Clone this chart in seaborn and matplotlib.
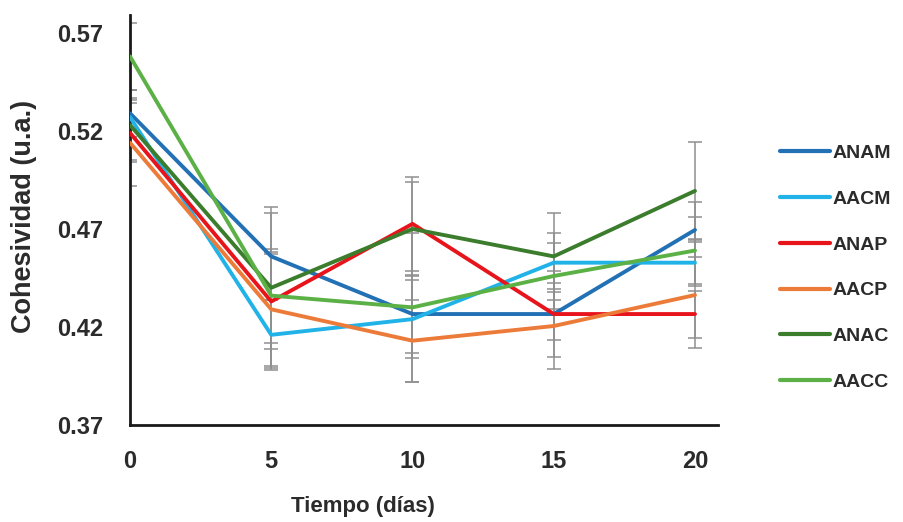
import matplotlib
matplotlib.use("Agg")
import matplotlib.pyplot as plt
import seaborn as sns
import pandas as pd
import numpy as np
from matplotlib.lines import Line2D

days = [0, 5, 10, 15, 20]
series = ["ANAM", "AACM", "ANAP", "AACP", "ANAC", "AACC"]
ANAM = [0.529, 0.456, 0.4266, 0.4266, 0.4695]
AACM = [0.527, 0.416, 0.424, 0.4528, 0.4528]
ANAP = [0.519, 0.433, 0.4726, 0.4266, 0.4266]
AACP = [0.514, 0.429, 0.413, 0.4205, 0.4363]
ANAC = [0.523, 0.440, 0.470, 0.456, 0.4894]
AACC = [0.558, 0.436, 0.430, 0.446, 0.459]
err_ANAM = [0.012, 0.022, 0.020, 0.022, 0.014]
err_AACM = [0.010, 0.018, 0.020, 0.015, 0.012]
err_ANAP = [0.015, 0.024, 0.024, 0.013, 0.012]
err_AACP = [0.022, 0.029, 0.021, 0.022, 0.027]
err_ANAC = [0.018, 0.041, 0.024, 0.022, 0.025]
err_AACC = [0.017, 0.024, 0.038, 0.017, 0.017]
yticks = [0.37, 0.42, 0.47, 0.52, 0.57]
xticks = [0, 5, 10, 15, 20]
colors = ["#2271b5", "#21b3e8", "#e8141c", "#ec7b3a", "#3b7d2d", "#5cb146"]

values = [ANAM, AACM, ANAP, AACP, ANAC, AACC]
errs = [err_ANAM, err_AACM, err_ANAP, err_AACP, err_ANAC, err_AACC]

df = pd.DataFrame({
    "Tiempo": np.tile(days, len(series)),
    "Cohesividad": np.concatenate(values),
    "err": np.concatenate(errs),
    "Serie": np.repeat(series, len(days)),
})

sns.set_style("white")
plt.rcParams["font.family"] = ["Liberation Sans", "DejaVu Sans"]
plt.rcParams["font.weight"] = "bold"

fig = plt.figure(figsize=(9.04, 5.22), dpi=100)
ax = fig.add_axes([0.1438, 0.1858, 0.650, 0.785])

for s in series:
    sub = df[df["Serie"] == s]
    ax.errorbar(sub["Tiempo"], sub["Cohesividad"], yerr=sub["err"], fmt="none",
                ecolor="#8f8f8f", elinewidth=1.1, capsize=5, capthick=1.1, zorder=1)

sns.lineplot(data=df, x="Tiempo", y="Cohesividad", hue="Serie", hue_order=series,
             palette=colors, linewidth=2.8, sort=False, ax=ax, legend=False, zorder=3)

ax.set_xlim(0, 20.8)
ax.set_ylim(0.37, 0.579)
ax.set_xticks(xticks)
ax.set_yticks(yticks)
ax.set_xticklabels([str(x) for x in xticks])
ax.set_yticklabels([f"{y:.2f}" for y in yticks])
ax.tick_params(axis="y", direction="out", length=7, width=1.8, labelsize=17,
               labelcolor="#2b2b2b", pad=12)
ax.tick_params(axis="x", direction="in", length=6, width=1.8, labelsize=17,
               labelcolor="#2b2b2b", pad=18)
for lab in ax.get_xticklabels() + ax.get_yticklabels():
    lab.set_fontweight("bold")
sns.despine(ax=ax)
for sp in ["left", "bottom"]:
    ax.spines[sp].set_linewidth(2)
    ax.spines[sp].set_color("#1a1a1a")

ax.set_xlabel("Tiempo (días)", fontsize=16, fontweight="bold", color="#2b2b2b")
ax.xaxis.set_label_coords(0.396, -0.174)
ax.set_ylabel("Cohesividad (u.a.)", fontsize=19.5, fontweight="bold", color="#2b2b2b")
ax.yaxis.set_label_coords(-0.158, 0.51)

handles = [Line2D([0], [0], color=c, lw=3.0) for c in colors]
leg = fig.legend(handles, series, loc="upper left", bbox_to_anchor=(0.843, 0.757),
                 frameon=False, handlelength=2.6, handletextpad=0.1, labelspacing=1.45,
                 prop={"weight": "bold", "size": 14})
for t in leg.get_texts():
    t.set_color("#2b2b2b")

fig.savefig("out.png", dpi=100)
